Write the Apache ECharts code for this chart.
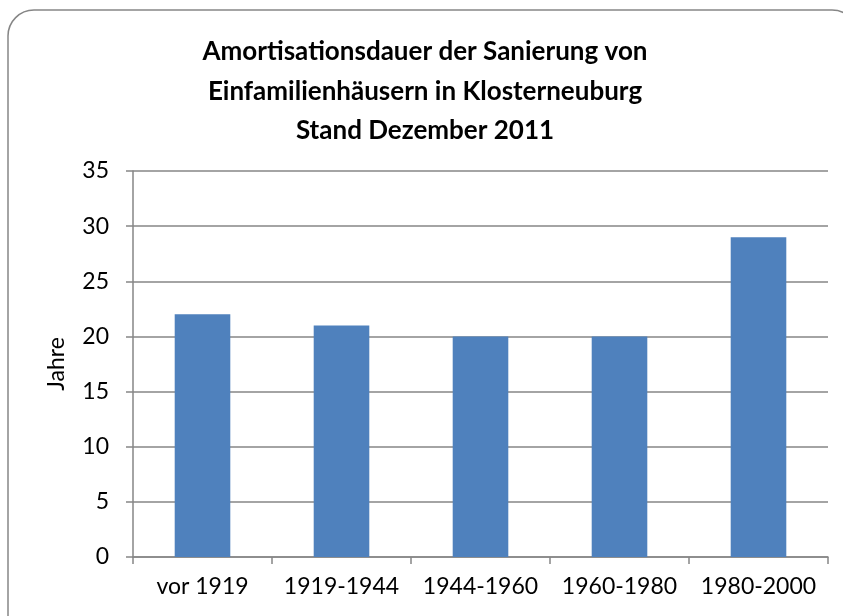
<!DOCTYPE html>
<html>
<head>
<meta charset="utf-8">
<script src="https://cdn.jsdelivr.net/npm/echarts@6/dist/echarts.min.js"></script>
<style>
  html, body { margin: 0; padding: 0; background: #fff; }
  #chart { width: 843px; height: 616px; }
</style>
</head>
<body>
<div id="chart"></div>
<script>
const categories = ["vor 1919", "1919-1944", "1944-1960", "1960-1980", "1980-2000"];
const jahre = [22, 21, 20, 20, 29];
const titleLines = [
  "Amortisationsdauer der Sanierung von",
  "Einfamilienhäusern in Klosterneuburg",
  "Stand Dezember 2011"
];

const chart = echarts.init(document.getElementById("chart"));
const font = "Lato, 'Open Sans', sans-serif";

chart.setOption({
  animation: false,
  textStyle: { fontFamily: font },
  title: {
    text: titleLines.join("\n"),
    left: 420,
    textAlign: "center",
    top: 27,
    textStyle: {
      fontFamily: font,
      fontSize: 26,
      fontWeight: "bold",
      color: "#000",
      lineHeight: 39.5
    }
  },
  graphic: [
    {
      type: "rect",
      shape: { x: 8, y: 10, width: 850, height: 640, r: 26 },
      style: { fill: "none", stroke: "#868686", lineWidth: 1.5 },
      silent: true
    }
  ],
  grid: { left: 133, right: 15, top: 171, bottom: 59 },
  xAxis: {
    type: "category",
    data: categories,
    axisLine: { lineStyle: { color: "#868686", width: 1.5 } },
    axisTick: { show: true, alignWithLabel: false, interval: 0, length: 7, lineStyle: { color: "#868686", width: 1.5 } },
    axisLabel: { color: "#000", fontSize: 23, margin: 18, interval: 0, hideOverlap: false, fontFamily: font }
  },
  yAxis: {
    type: "value",
    min: 0,
    max: 35,
    interval: 5,
    name: "Jahre",
    nameLocation: "middle",
    nameGap: 65,
    nameRotate: 90,
    nameTextStyle: { color: "#000", fontSize: 23, fontFamily: font },
    axisLine: { show: true, lineStyle: { color: "#868686", width: 1.5 } },
    axisTick: { show: true, length: 7, lineStyle: { color: "#868686", width: 1.5 } },
    axisLabel: { color: "#000", fontSize: 23, margin: 24, fontFamily: font },
    splitLine: { lineStyle: { color: "#868686", width: 1.5 } }
  },
  series: [
    {
      type: "bar",
      data: jahre,
      barCategoryGap: "60%",
      itemStyle: { color: "#4f81bd" }
    }
  ]
});
</script>
</body>
</html>
